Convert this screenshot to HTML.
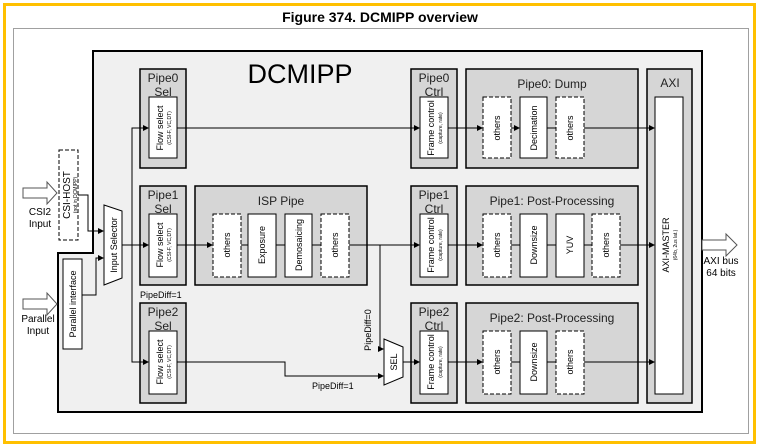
<!DOCTYPE html>
<html><head><style>
body{margin:0;background:#fff;}
svg{display:block;font-family:"Liberation Sans",Arial,sans-serif;}
</style></head><body>
<svg width="759" height="446" viewBox="0 0 759 446" xmlns="http://www.w3.org/2000/svg">
<defs>
<marker id="a" markerWidth="6" markerHeight="6" refX="5" refY="3" orient="auto" markerUnits="userSpaceOnUse"><path d="M0,0 L6,3 L0,6 Z" fill="#000"/></marker>
</defs>
<rect x="4.5" y="4.5" width="750" height="438" fill="#fff" stroke="#FFC000" stroke-width="3"/>
<text x="380" y="22" text-anchor="middle" font-size="14" font-weight="bold">Figure 374. DCMIPP overview</text>
<rect x="13.5" y="28.5" width="735" height="405" fill="none" stroke="#a0a0a0" stroke-width="1"/>
<path d="M93,51 H702 V412 H58 V253 H93 Z" fill="#f0f0f0" stroke="#000" stroke-width="2"/>
<text x="300" y="83" text-anchor="middle" font-size="27">DCMIPP</text>

<g stroke="#000" stroke-width="1.5" fill="#d6d6d6">
<rect x="140" y="69" width="46" height="99"/>
<rect x="140" y="186" width="46" height="99"/>
<rect x="140" y="303" width="46" height="100"/>
<rect x="195" y="186" width="172" height="99"/>
<rect x="411" y="69" width="46" height="99"/>
<rect x="411" y="186" width="46" height="99"/>
<rect x="411" y="303" width="46" height="100"/>
<rect x="466" y="69" width="172" height="99"/>
<rect x="466" y="186" width="172" height="99"/>
<rect x="466" y="303" width="172" height="100"/>
<rect x="647" y="69" width="45" height="334"/>
</g>
<g font-size="12" text-anchor="middle" fill="#222">
<text x="163" y="82">Pipe0</text><text x="163" y="96">Sel</text>
<text x="163" y="199">Pipe1</text><text x="163" y="213">Sel</text>
<text x="163" y="316">Pipe2</text><text x="163" y="330">Sel</text>
<text x="434" y="82">Pipe0</text><text x="434" y="96">Ctrl</text>
<text x="434" y="199">Pipe1</text><text x="434" y="213">Ctrl</text>
<text x="434" y="316">Pipe2</text><text x="434" y="330">Ctrl</text>
<text x="281" y="205">ISP Pipe</text>
<text x="552" y="88">Pipe0: Dump</text>
<text x="552" y="205">Pipe1: Post-Processing</text>
<text x="552" y="322">Pipe2: Post-Processing</text>
<text x="670" y="87">AXI</text>
</g>
<!-- white inner boxes -->
<g stroke="#000" stroke-width="1" fill="#fff">
<rect x="149" y="97" width="28" height="61"/>
<rect x="149" y="214" width="28" height="63"/>
<rect x="149" y="331" width="28" height="63"/>
<rect x="420" y="97" width="28" height="61"/>
<rect x="420" y="214" width="28" height="63"/>
<rect x="420" y="331" width="28" height="63"/>
<rect x="655" y="97" width="28" height="297"/>
<rect x="520" y="97" width="27" height="61"/>
<rect x="248" y="214" width="28" height="63"/>
<rect x="285" y="214" width="27" height="63"/>
<rect x="520" y="214" width="27" height="63"/>
<rect x="556" y="214" width="28" height="63"/>
<rect x="520" y="331" width="27" height="63"/>
<rect x="63" y="259" width="19" height="90"/>
</g>
<g stroke="#000" stroke-width="1" fill="#fff" stroke-dasharray="4,2">
<rect x="483" y="97" width="28" height="61"/>
<rect x="556" y="97" width="28" height="61"/>
<rect x="213" y="214" width="28" height="63"/>
<rect x="321" y="214" width="28" height="63"/>
<rect x="483" y="214" width="28" height="63"/>
<rect x="592" y="214" width="28" height="63"/>
<rect x="483" y="331" width="28" height="63"/>
<rect x="556" y="331" width="28" height="63"/>
<rect x="59" y="150" width="19" height="90"/>
</g>
<!-- trapezoids -->
<path d="M104,205 L122,211 L122,278 L104,285 Z" fill="#fff" stroke="#000"/>
<path d="M384,339 L403,347 L403,377 L384,385 Z" fill="#fff" stroke="#000"/>

<!-- rotated labels -->
<g font-size="9" text-anchor="middle" fill="#000">
<g transform="translate(163,128) rotate(-90)"><text y="0">Flow select</text><text y="8" font-size="5">(CSI-F, VC,DT)</text></g>
<g transform="translate(163,245) rotate(-90)"><text y="0">Flow select</text><text y="8" font-size="5">(CSI-F, VC,DT)</text></g>
<g transform="translate(163,362) rotate(-90)"><text y="0">Flow select</text><text y="8" font-size="5">(CSI-F, VC,DT)</text></g>
<g transform="translate(434,128) rotate(-90)"><text y="0">Frame control</text><text y="8" font-size="5">(capture, rate)</text></g>
<g transform="translate(434,245) rotate(-90)"><text y="0">Frame control</text><text y="8" font-size="5">(capture, rate)</text></g>
<g transform="translate(434,362) rotate(-90)"><text y="0">Frame control</text><text y="8" font-size="5">(capture, rate)</text></g>
<g transform="translate(669,245) rotate(-90)"><text y="0">AXI-MASTER</text><text y="8" font-size="5">(64b, 2us lat.)</text></g>
<g transform="translate(70,195) rotate(-90)"><text y="0" font-size="10">CSI-HOST</text><text y="7" font-size="5">(not in DCMIPP)</text></g>
<text transform="translate(76,304) rotate(-90)">Parallel interface</text>
<text transform="translate(117,245) rotate(-90)">Input Selector</text>
<text transform="translate(397,362) rotate(-90)">SEL</text>
<text transform="translate(500,128) rotate(-90)">others</text>
<text transform="translate(537,128) rotate(-90)">Decimation</text>
<text transform="translate(573,128) rotate(-90)">others</text>
<text transform="translate(230,245) rotate(-90)">others</text>
<text transform="translate(265,245) rotate(-90)">Exposure</text>
<text transform="translate(302,245) rotate(-90)">Demosaicing</text>
<text transform="translate(338,245) rotate(-90)">others</text>
<text transform="translate(500,245) rotate(-90)">others</text>
<text transform="translate(537,245) rotate(-90)">Downsize</text>
<text transform="translate(573,245) rotate(-90)">YUV</text>
<text transform="translate(609,245) rotate(-90)">others</text>
<text transform="translate(500,362) rotate(-90)">others</text>
<text transform="translate(537,362) rotate(-90)">Downsize</text>
<text transform="translate(573,362) rotate(-90)">others</text>
<text transform="translate(371,330) rotate(-90)">PipeDiff=0</text>
</g>
<g font-size="9" fill="#000">
<text x="140" y="298">PipeDiff=1</text>
<text x="312" y="389">PipeDiff=1</text>
</g>
<g font-size="10" text-anchor="middle" fill="#000">
<text x="40" y="215">CSI2</text><text x="40" y="227">Input</text>
<text x="38" y="322">Parallel</text><text x="38" y="334">Input</text>
<text x="721" y="264">AXI bus</text><text x="721" y="276">64 bits</text>
</g>

<!-- connectors -->
<g stroke="#000" stroke-width="1" fill="none">
<path d="M78,195 H88 V231 H103" marker-end="url(#a)"/>
<path d="M82,295 H96 V258 H103" marker-end="url(#a)"/>
<path d="M122,245 H148" marker-end="url(#a)"/>
<path d="M148,128 H132 V362 H148" marker-end="url(#a)"/>
<path d="M132,128 H148" marker-end="url(#a)"/>
<path d="M177,128 H419" marker-end="url(#a)"/>
<path d="M448,128 H482" marker-end="url(#a)"/>
<path d="M511,128 H519" marker-end="url(#a)"/>
<path d="M547,128 H556"/>
<path d="M584,128 H654" marker-end="url(#a)"/>
<path d="M177,245 H212" marker-end="url(#a)"/>
<path d="M241,245 H248 M276,245 H285 M312,245 H321"/>
<path d="M349,245 H419" marker-end="url(#a)"/>
<path d="M380,245 V349 H383" marker-end="url(#a)"/>
<path d="M177,362 H285 V376 H383" marker-end="url(#a)"/>
<path d="M403,362 H419" marker-end="url(#a)"/>
<path d="M448,245 H482" marker-end="url(#a)"/>
<path d="M511,245 H520 M547,245 H556 M584,245 H592"/>
<path d="M620,245 H654" marker-end="url(#a)"/>
<path d="M448,362 H482" marker-end="url(#a)"/>
<path d="M511,362 H520 M547,362 H556"/>
<path d="M584,362 H654" marker-end="url(#a)"/>
</g>
<!-- hollow arrows -->
<g fill="#fff" stroke="#555" stroke-width="1">
<path d="M23,188 H47 V182 L57,193 L47,204 V198 H23 Z"/>
<path d="M23,299 H47 V293 L57,304 L47,315 V309 H23 Z"/>
<path d="M702,240 H726 V234 L737,245 L726,256 V250 H702 Z"/>
</g>
</svg>
</body></html>
